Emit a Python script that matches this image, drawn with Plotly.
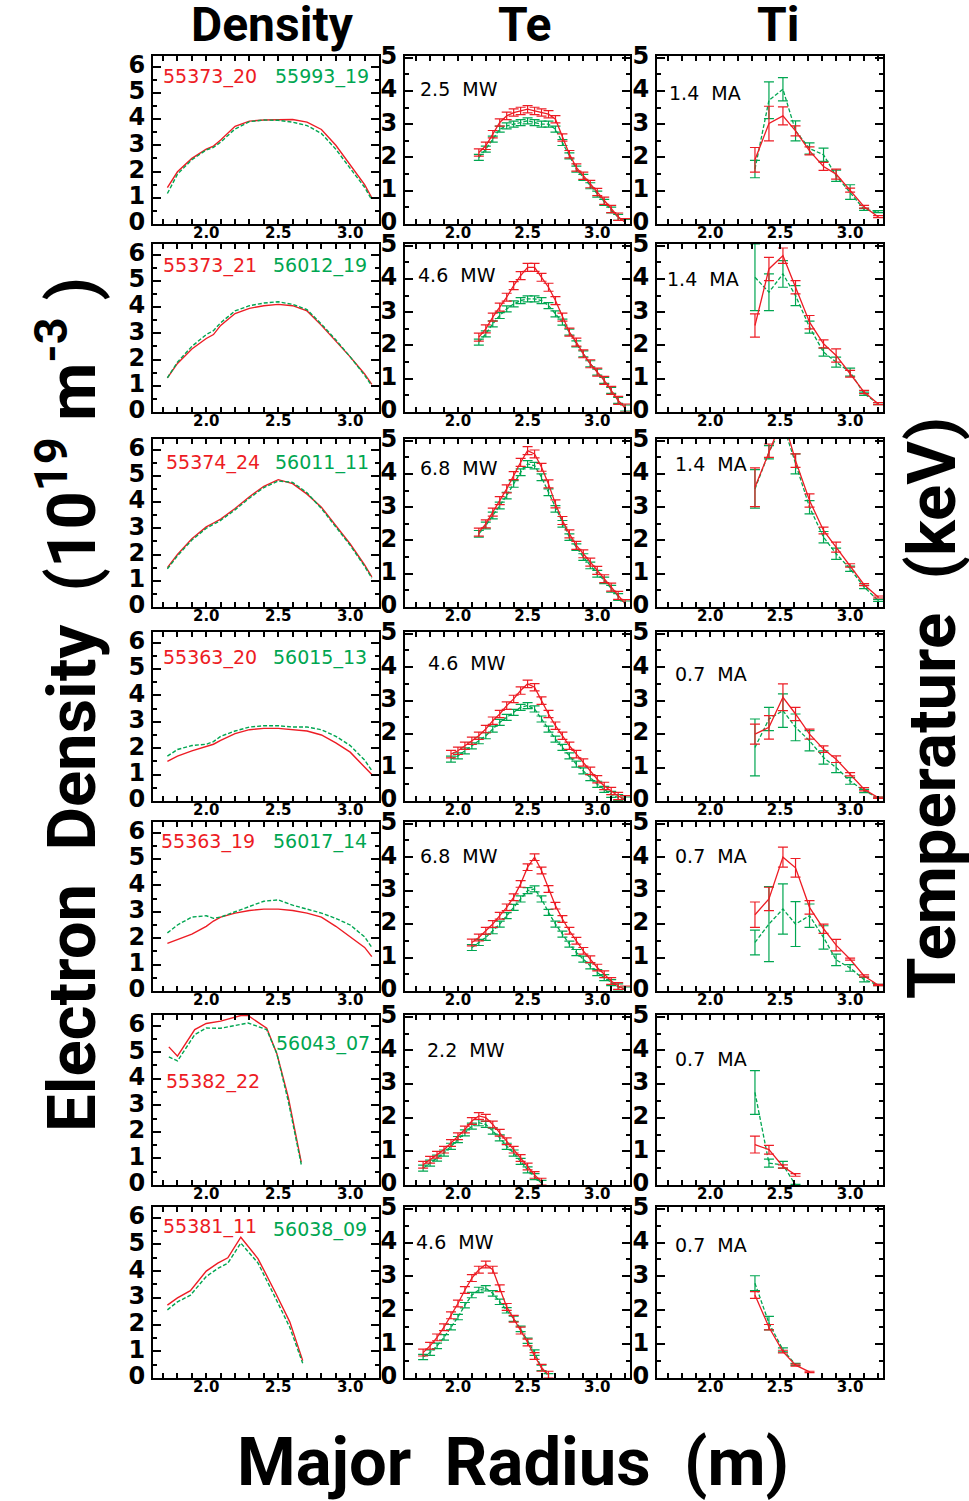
import plotly.graph_objects as go

RED = '#ed1c24'
GREEN = '#00a651'

# ---------------- data ----------------
dens_x = [1.73, 1.8, 1.9, 2.0, 2.05, 2.1, 2.2, 2.3, 2.4, 2.5, 2.6, 2.7, 2.8, 2.9, 3.0, 3.1, 3.15]
d1_red = [1.39, 1.99, 2.5, 2.85, 2.97, 3.2, 3.72, 3.92, 3.96, 3.97, 3.98, 3.88, 3.6, 3.0, 2.25, 1.5, 1.0]
d1_green = [1.16, 1.9, 2.45, 2.82, 2.92, 3.12, 3.62, 3.9, 3.96, 3.95, 3.88, 3.75, 3.45, 2.85, 2.12, 1.4, 0.92]
d2_red = [1.3, 1.85, 2.4, 2.8, 2.95, 3.3, 3.75, 3.95, 4.05, 4.1, 4.05, 3.85, 3.3, 2.7, 2.1, 1.45, 1.05]
d2_green = [1.3, 1.9, 2.5, 2.95, 3.1, 3.4, 3.85, 4.05, 4.15, 4.2, 4.1, 3.9, 3.35, 2.75, 2.1, 1.4, 1.0]
d3_red = [1.5, 2.0, 2.6, 3.05, 3.2, 3.35, 3.75, 4.2, 4.6, 4.85, 4.7, 4.3, 3.8, 3.1, 2.4, 1.6, 1.15]
d3_green = [1.45, 1.95, 2.55, 3.0, 3.15, 3.3, 3.7, 4.15, 4.55, 4.8, 4.75, 4.35, 3.75, 3.05, 2.35, 1.55, 1.1]
d4_red = [1.5, 1.7, 1.9, 2.05, 2.15, 2.3, 2.55, 2.7, 2.75, 2.75, 2.7, 2.65, 2.5, 2.2, 1.85, 1.3, 1.0]
d4_green = [1.7, 1.95, 2.1, 2.15, 2.25, 2.45, 2.65, 2.8, 2.85, 2.85, 2.8, 2.8, 2.7, 2.45, 2.1, 1.55, 1.15]
d5_red = [1.8, 1.95, 2.15, 2.45, 2.65, 2.8, 2.95, 3.05, 3.1, 3.1, 3.05, 2.95, 2.8, 2.45, 2.05, 1.65, 1.3]
d5_green = [2.2, 2.5, 2.8, 2.85, 2.75, 2.8, 3.0, 3.2, 3.4, 3.45, 3.25, 3.1, 2.95, 2.75, 2.5, 2.05, 1.65]
d6_x = [1.74, 1.80, 1.92, 2.0, 2.1, 2.24, 2.29, 2.42, 2.49, 2.57, 2.66]
d6_red = [5.2, 4.85, 5.85, 6.08, 6.17, 6.38, 6.38, 5.9, 4.95, 3.3, 0.85]
d6_green = [4.82, 4.67, 5.66, 5.91, 5.9, 6.05, 6.1, 5.85, 4.95, 3.15, 0.77]
d7_x = [1.73, 1.8, 1.89, 2.0, 2.08, 2.15, 2.24, 2.36, 2.48, 2.58, 2.67]
d7_red = [2.73, 3.0, 3.27, 4.0, 4.3, 4.5, 5.27, 4.46, 3.2, 2.1, 0.65]
d7_green = [2.55, 2.85, 3.1, 3.8, 4.1, 4.3, 5.05, 4.3, 3.0, 1.9, 0.55]

te_x_a = [2.15, 2.2, 2.25, 2.3, 2.35, 2.4, 2.45, 2.5, 2.55, 2.6, 2.65,
          2.7, 2.75, 2.8, 2.85, 2.9, 2.95, 3.0, 3.05, 3.1, 3.15, 3.2]
te1_red = [2.15, 2.35, 2.7, 3.05, 3.25, 3.35, 3.4, 3.45, 3.4, 3.35, 3.3, 3.15, 2.6, 2.1, 1.7, 1.45, 1.2, 0.96, 0.7, 0.45, 0.22, 0.05]
te1_green = [2.0, 2.25, 2.55, 2.85, 2.95, 3.0, 3.05, 3.1, 3.05, 3.0, 3.0, 2.85, 2.45, 2.05, 1.65, 1.4, 1.15, 0.9, 0.65, 0.42, 0.2, 0.05]
te2_red = [2.25, 2.5, 2.85, 3.15, 3.45, 3.8, 4.1, 4.35, 4.35, 4.05, 3.75, 3.35, 2.85, 2.4, 2.1, 1.75, 1.45, 1.2, 0.95, 0.65, 0.35, 0.12]
te2_green = [2.1, 2.35, 2.65, 2.9, 3.1, 3.25, 3.35, 3.4, 3.4, 3.35, 3.2, 2.95, 2.7, 2.4, 2.05, 1.75, 1.45, 1.2, 0.95, 0.65, 0.35, 0.12]
te3_red = [2.25, 2.5, 2.85, 3.2, 3.55, 3.95, 4.35, 4.7, 4.6, 4.2, 3.7, 3.1, 2.6, 2.2, 1.85, 1.6, 1.35, 1.1, 0.85, 0.6, 0.35, 0.1]
te3_green = [2.2, 2.45, 2.75, 3.05, 3.35, 3.7, 4.05, 4.3, 4.25, 3.9, 3.45, 2.95, 2.5, 2.1, 1.8, 1.5, 1.25, 1.0, 0.8, 0.55, 0.3, 0.08]
te_x_4 = [1.95, 2.0, 2.05, 2.1, 2.15, 2.2, 2.25, 2.3, 2.35, 2.4, 2.45, 2.5, 2.55,
          2.6, 2.65, 2.7, 2.75, 2.8, 2.85, 2.9, 2.95, 3.0, 3.05, 3.1, 3.15, 3.2]
te4_red = [1.4, 1.5, 1.65, 1.8, 1.95, 2.15, 2.4, 2.6, 2.85, 3.05, 3.3, 3.5, 3.4, 3.0, 2.6, 2.25, 1.95, 1.65, 1.4, 1.15, 0.9, 0.65, 0.45, 0.3, 0.15, 0.05]
te4_green = [1.25, 1.35, 1.5, 1.65, 1.8, 1.95, 2.15, 2.35, 2.5, 2.65, 2.8, 2.85, 2.75, 2.45, 2.15, 1.85, 1.6, 1.35, 1.1, 0.9, 0.7, 0.5, 0.35, 0.2, 0.1, 0.03]
te_x_5 = [2.1, 2.15, 2.2, 2.25, 2.3, 2.35, 2.4, 2.45, 2.5, 2.55, 2.6, 2.65,
          2.7, 2.75, 2.8, 2.85, 2.9, 2.95, 3.0, 3.05, 3.1, 3.15, 3.2]
te5_red = [1.45, 1.6, 1.8, 2.0, 2.25, 2.5, 2.8, 3.2, 3.7, 4.0, 3.6, 3.05, 2.55, 2.15, 1.8, 1.5, 1.2, 0.95, 0.7, 0.5, 0.3, 0.15, 0.05]
te5_green = [1.3, 1.45, 1.6, 1.8, 2.0, 2.25, 2.5, 2.75, 3.0, 3.05, 2.75, 2.35, 2.0, 1.7, 1.4, 1.15, 0.95, 0.75, 0.55, 0.4, 0.25, 0.12, 0.03]
te_x_6 = [1.75, 1.8, 1.85, 1.9, 1.95, 2.0, 2.05, 2.1, 2.15, 2.2, 2.25, 2.3, 2.35, 2.4, 2.45, 2.5, 2.55, 2.6]
te6_red = [0.6, 0.75, 0.9, 1.05, 1.25, 1.45, 1.65, 1.9, 2.05, 2.0, 1.8, 1.55, 1.3, 1.05, 0.8, 0.55, 0.3, 0.1]
te6_green = [0.5, 0.65, 0.8, 0.95, 1.15, 1.35, 1.55, 1.75, 1.85, 1.8, 1.6, 1.4, 1.15, 0.95, 0.7, 0.45, 0.25, 0.05]
te_x_7 = [1.75, 1.8, 1.85, 1.9, 1.95, 2.0, 2.05, 2.1, 2.15, 2.2, 2.25, 2.3, 2.35, 2.4, 2.45, 2.5, 2.55, 2.6, 2.65]
te7_red = [0.75, 0.95, 1.2, 1.5, 1.85, 2.2, 2.6, 2.95, 3.2, 3.35, 3.2, 2.65, 2.1, 1.75, 1.4, 1.05, 0.65, 0.3, 0.1]
te7_green = [0.62, 0.75, 0.95, 1.2, 1.5, 1.8, 2.15, 2.45, 2.6, 2.65, 2.5, 2.25, 2.0, 1.75, 1.45, 1.1, 0.75, 0.3, 0.05]
te_err_red = [0.11, 0.12, 0.12, 0.11, 0.1, 0.1, 0.1]
te_err_green = [0.09, 0.09, 0.1, 0.09, 0.09, 0.09, 0.08]

ti_x = [2.32, 2.42, 2.52, 2.61, 2.71, 2.81, 2.90, 3.00, 3.10, 3.20]
ti1_red = [1.93, 3.02, 3.25, 2.8, 2.2, 1.73, 1.5, 1.02, 0.52, 0.22]
ti1_red_err = [0.37, 0.52, 0.27, 0.15, 0.12, 0.12, 0.15, 0.06, 0.04, 0.03]
ti1_green = [1.65, 3.72, 4.05, 2.8, 2.27, 2.08, 1.45, 0.96, 0.44, 0.37]
ti1_green_err = [0.26, 0.55, 0.35, 0.3, 0.17, 0.2, 0.17, 0.22, 0.03, 0.03]
ti2_red = [2.6, 4.3, 4.7, 3.75, 2.7, 2.05, 1.7, 1.15, 0.6, 0.25]
ti2_red_err = [0.35, 0.35, 0.23, 0.2, 0.2, 0.12, 0.2, 0.1, 0.05, 0.03]
ti2_green = [4.05, 3.6, 4.15, 3.5, 2.55, 1.8, 1.5, 1.2, 0.55, 0.25]
ti2_green_err = [1.0, 0.55, 0.4, 0.3, 0.18, 0.12, 0.15, 0.12, 0.05, 0.03]
ti3_red = [3.6, 4.7, 5.7, 4.4, 3.2, 2.3, 1.8, 1.25, 0.67, 0.3]
ti3_red_err = [0.58, 0.2, 0.3, 0.2, 0.2, 0.1, 0.15, 0.05, 0.03, 0.03]
ti3_green = [3.55, 4.65, 5.5, 4.3, 3.0, 2.1, 1.6, 1.15, 0.6, 0.2]
ti3_green_err = [0.58, 0.2, 0.3, 0.3, 0.2, 0.17, 0.17, 0.08, 0.05, 0.03]
ti4_red = [2.0, 2.2, 3.1, 2.6, 2.0, 1.55, 1.25, 0.8, 0.35, 0.1]
ti4_red_err = [0.3, 0.35, 0.4, 0.2, 0.15, 0.1, 0.1, 0.05, 0.05, 0.02]
ti4_green = [1.6, 2.45, 2.7, 2.2, 1.8, 1.3, 1.0, 0.6, 0.3, 0.1]
ti4_green_err = [0.85, 0.35, 0.5, 0.4, 0.3, 0.2, 0.15, 0.1, 0.05, 0.02]
ti5_red = [2.28, 2.75, 4.0, 3.68, 2.5, 1.86, 1.37, 0.95, 0.45, 0.18]
ti5_red_err = [0.38, 0.35, 0.3, 0.28, 0.2, 0.14, 0.17, 0.03, 0.03, 0.02]
ti5_green = [1.45, 2.0, 2.45, 2.0, 2.25, 1.6, 0.93, 0.69, 0.34, 0.18]
ti5_green_err = [0.37, 1.12, 0.75, 0.67, 0.35, 0.35, 0.17, 0.1, 0.07, 0.02]
ti6_red = [1.2, 1.05, 0.55, 0.3]
ti6_red_err = [0.25, 0.13, 0.05, 0.04]
ti6_green = [2.75, 0.65, 0.6, 0.0]
ti6_green_err = [0.65, 0.12, 0.1, 0.02]
ti7_red = [2.45, 1.5, 0.78, 0.38, 0.18]
ti7_red_err = [0.1, 0.08, 0.04, 0.03, 0.02]
ti7_green = [2.8, 1.62, 0.83, 0.4]
ti7_green_err = [0.22, 0.2, 0.06, 0.03]

shots_red = ['55373_20', '55373_21', '55374_24', '55363_20', '55363_19', '55382_22', '55381_11']
shots_green = ['55993_19', '56012_19', '56011_11', '56015_13', '56017_14', '56043_07', '56038_09']
powers = ['2.5', '4.6', '6.8', '4.6', '6.8', '2.2', '4.6']
currents = ['1.4', '1.4', '1.4', '0.7', '0.7', '0.7', '0.7']
col_titles = ['Density', 'Te', 'Ti']
x_ticks = [2.0, 2.5, 3.0]
x_ticktext = ['2.0', '2.5', '3.0']

# ---------------- assembly ----------------
dens = [(dens_x, d1_red, dens_x, d1_green), (dens_x, d2_red, dens_x, d2_green),
        (dens_x, d3_red, dens_x, d3_green), (dens_x, d4_red, dens_x, d4_green),
        (dens_x, d5_red, dens_x, d5_green), (d6_x, d6_red, d6_x, d6_green),
        (d7_x, d7_red, d7_x, d7_green)]
tes = [(te_x_a, te1_red, te1_green), (te_x_a, te2_red, te2_green), (te_x_a, te3_red, te3_green),
       (te_x_4, te4_red, te4_green), (te_x_5, te5_red, te5_green), (te_x_6, te6_red, te6_green),
       (te_x_7, te7_red, te7_green)]
tis = [(ti1_red, ti1_red_err, ti1_green, ti1_green_err), (ti2_red, ti2_red_err, ti2_green, ti2_green_err),
       (ti3_red, ti3_red_err, ti3_green, ti3_green_err), (ti4_red, ti4_red_err, ti4_green, ti4_green_err),
       (ti5_red, ti5_red_err, ti5_green, ti5_green_err), (ti6_red, ti6_red_err, ti6_green, ti6_green_err),
       (ti7_red, ti7_red_err, ti7_green, ti7_green_err)]

W, H = 969, 1501
col_px = [(153, 379), (405, 630), (657, 883)]
row_px = [(56, 224), (244, 412), (439, 607), (632, 801), (822, 991), (1015, 1185), (1207, 1378)]
xranges = [[1.63, 3.20], [1.62, 3.235], [1.62, 3.235]]
yranges = [[0, 6.4], [0, 5.05], [0, 5.05]]

TICKFONT = dict(family='DejaVu Sans', size=24, color='black', weight='bold')
XTICKFONT = dict(family='DejaVu Sans', size=15, color='black', weight='bold')
LBLFONT = 'DejaVu Sans'
BIGFONT = 'Roboto'

fig = go.Figure()
layout = dict(width=W, height=H, margin=dict(l=0, r=0, t=0, b=0, pad=0, autoexpand=False),
              paper_bgcolor='white', plot_bgcolor='white', showlegend=False)

def px2fx(p):
    return p / W

def py2fy(p):
    return 1 - p / H

annotations = []
for r in range(7):
    for c in range(3):
        k = r * 3 + c + 1
        xa = 'x' if k == 1 else f'x{k}'
        ya = 'y' if k == 1 else f'y{k}'
        xname = 'xaxis' if k == 1 else f'xaxis{k}'
        yname = 'yaxis' if k == 1 else f'yaxis{k}'
        x0, x1 = col_px[c]
        y0, y1 = row_px[r]
        layout[xname] = dict(
            domain=[px2fx(x0), px2fx(x1)], range=xranges[c], anchor=ya, automargin=False,
            showline=True, linecolor='black', linewidth=2, mirror='ticks',
            ticks='inside', ticklen=5, tickwidth=1.5, tickcolor='black',
            tickvals=x_ticks, ticktext=x_ticktext, tickfont=XTICKFONT,
            ticklabelstandoff=-6,
            minor=dict(dtick=0.1, tick0=2.0, ticks='inside', ticklen=5, tickwidth=1.5, tickcolor='black'),
            showgrid=False, zeroline=False, fixedrange=True)
        layout[yname] = dict(
            domain=[py2fy(y1), py2fy(y0)], range=yranges[c], anchor=xa, automargin=False,
            showline=True, linecolor='black', linewidth=2, mirror='ticks',
            ticks='inside', ticklen=8, tickwidth=1.5, tickcolor='black',
            dtick=1, tick0=0, tickfont=TICKFONT, ticklabelstandoff=1, ticklabelshift=-2,
            minor=dict(dtick=0.5, tick0=0, ticks='inside', ticklen=4, tickwidth=1.5, tickcolor='black'),
            showgrid=False, zeroline=False, fixedrange=True)

        if c == 0:
            gx, gr, gx2, gg = dens[r]
            fig.add_trace(go.Scatter(x=gx, y=gr, mode='lines', xaxis=xa, yaxis=ya,
                                     line=dict(color=RED, width=1.4), hoverinfo='skip'))
            fig.add_trace(go.Scatter(x=gx2, y=gg, mode='lines', xaxis=xa, yaxis=ya,
                                     line=dict(color=GREEN, width=1.4, dash='4px,2px'), hoverinfo='skip'))
        elif c == 1:
            tx, tr, tg = tes[r]
            fig.add_trace(go.Scatter(x=tx, y=tg, mode='lines', xaxis=xa, yaxis=ya,
                                     line=dict(color=GREEN, width=1.3, dash='4px,2px'),
                                     error_y=dict(type='constant', value=te_err_green[r], color=GREEN,
                                                  thickness=1.2, width=5), hoverinfo='skip'))
            fig.add_trace(go.Scatter(x=tx, y=tr, mode='lines', xaxis=xa, yaxis=ya,
                                     line=dict(color=RED, width=1.3),
                                     error_y=dict(type='constant', value=te_err_red[r], color=RED,
                                                  thickness=1.2, width=5), hoverinfo='skip'))
        else:
            rv, re_, gv, ge = tis[r]
            fig.add_trace(go.Scatter(x=ti_x[:len(gv)], y=gv, mode='lines', xaxis=xa, yaxis=ya,
                                     line=dict(color=GREEN, width=1.3, dash='4px,2px'),
                                     error_y=dict(type='data', array=ge, color=GREEN,
                                                  thickness=1.2, width=5), hoverinfo='skip'))
            fig.add_trace(go.Scatter(x=ti_x[:len(rv)], y=rv, mode='lines', xaxis=xa, yaxis=ya,
                                     line=dict(color=RED, width=1.3),
                                     error_y=dict(type='data', array=re_, color=RED,
                                                  thickness=1.2, width=5), hoverinfo='skip'))

# shot labels (pixel centres)
shot_pos = [((210, 77), (322, 77)), ((210, 265), (320, 265)), ((213, 462), (322, 462)),
            ((210, 657), (320, 657)), ((208, 841), (320, 841)), ((213, 1081), (323, 1043)),
            ((210, 1226), (320, 1229))]
for r in range(7):
    (rx, ry), (gx, gy) = shot_pos[r]
    annotations.append(dict(text=shots_red[r], x=px2fx(rx), y=py2fy(ry), xref='paper', yref='paper',
                            showarrow=False, xanchor='center', yanchor='middle',
                            font=dict(family=LBLFONT, size=19, color=RED)))
    annotations.append(dict(text=shots_green[r], x=px2fx(gx), y=py2fy(gy), xref='paper', yref='paper',
                            showarrow=False, xanchor='center', yanchor='middle',
                            font=dict(family=LBLFONT, size=19, color=GREEN)))

te_pos = [(418, 89), (416, 275), (418, 468), (426, 663), (418, 856), (425, 1050), (414, 1242)]
ti_pos = [(667, 93), (665, 279), (673, 464), (673, 674), (673, 856), (673, 1059), (673, 1245)]
for r in range(7):
    annotations.append(dict(text=powers[r] + '\u00a0\u00a0MW', x=px2fx(te_pos[r][0]), y=py2fy(te_pos[r][1]),
                            xref='paper', yref='paper', showarrow=False, xanchor='left', yanchor='middle',
                            font=dict(family=LBLFONT, size=19, color='black')))
    annotations.append(dict(text=currents[r] + '\u00a0\u00a0MA', x=px2fx(ti_pos[r][0]), y=py2fy(ti_pos[r][1]),
                            xref='paper', yref='paper', showarrow=False, xanchor='left', yanchor='middle',
                            font=dict(family=LBLFONT, size=19, color='black')))

# column titles
title_x = [272, 525, 778]
for c in range(3):
    annotations.append(dict(text=col_titles[c], x=px2fx(title_x[c]), y=py2fy(25), xref='paper', yref='paper',
                            showarrow=False, xanchor='center', yanchor='middle',
                            font=dict(family=BIGFONT, size=48, color='black', weight='bold')))

annotations.append(dict(text='Electron\u00a0\u00a0Density\u00a0\u00a0(10<sup>19</sup>\u00a0m<sup>-3</sup>\u00a0)',
                        x=px2fx(67), y=py2fy(705), xref='paper', yref='paper', showarrow=False,
                        textangle=-90, xanchor='center', yanchor='middle',
                        font=dict(family=BIGFONT, size=67, color='black', weight='bold')))
annotations.append(dict(text='Temperature\u00a0\u00a0(keV)',
                        x=px2fx(932), y=py2fy(708), xref='paper', yref='paper', showarrow=False,
                        textangle=-90, xanchor='center', yanchor='middle',
                        font=dict(family=BIGFONT, size=67, color='black', weight='bold')))
annotations.append(dict(text='Major\u00a0\u00a0Radius\u00a0\u00a0(m)',
                        x=px2fx(513), y=py2fy(1462), xref='paper', yref='paper', showarrow=False,
                        xanchor='center', yanchor='middle',
                        font=dict(family=BIGFONT, size=67, color='black', weight='bold')))

layout['annotations'] = annotations
fig.update_layout(**layout)
fig.write_html('out.html')
